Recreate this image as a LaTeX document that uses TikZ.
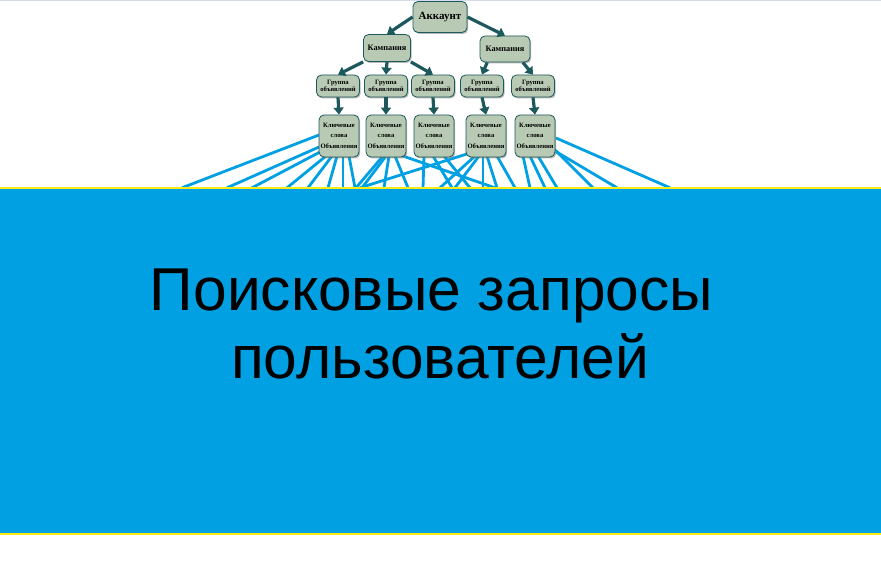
\documentclass[tikz,border=0pt]{standalone}
\usepackage{fontspec}
\setmainfont{Liberation Serif}
\newfontfamily\arialf{Liberation Sans}
\usetikzlibrary{shadows,arrows.meta,backgrounds}
\definecolor{sky}{RGB}{0,160,227}
\definecolor{sage}{RGB}{184,202,180}
\definecolor{darkteal}{RGB}{28,88,92}
\definecolor{yel}{RGB}{250,235,20}
\definecolor{topline}{RGB}{215,220,235}
\begin{document}
\begin{tikzpicture}[x=1pt,y=-1pt, line join=round, line cap=round,
	box/.style={draw=darkteal, line width=.8pt, fill=sage, rounded corners=5pt, inner sep=1pt, align=center, font=\bfseries,
		drop shadow={shadow xshift=1.2pt, shadow yshift=-1.5pt, opacity=.55}},
	grp/.style={box, minimum width=43pt, minimum height=22pt, font=\bfseries\fontsize{6.6}{6.8}\selectfont},
	kw/.style={box, minimum width=40pt, minimum height=42pt, font=\bfseries\fontsize{6.6}{9.5}\selectfont},
	arr/.style={-{Triangle[length=7pt,width=10pt]}, line width=3.2pt, draw=darkteal, line cap=butt},
	ray/.style={draw=sky, line width=2.8pt}]
	\def\W{881} \def\H{567}
	\useasboundingbox (0,0) rectangle (\W,\H);
	\draw[topline, line width=2pt] (0,0)--(\W,0);
	% дерево аккаунта
	\node (acc) at (440,17) [box, minimum width=54pt, minimum height=31pt, font=\bfseries\fontsize{11}{12}\selectfont]{Аккаунт};
	\node (c1) at (387,48) [box, minimum width=47pt, minimum height=27pt, font=\bfseries\fontsize{8.3}{9}\selectfont]{Кампания};
	\node (c2) at (505,49) [box, minimum width=50pt, minimum height=26pt, font=\bfseries\fontsize{8.3}{9}\selectfont]{Кампания};
	\node (g1) at (338,86) [grp]{Группа\\объявлений};
	\node (g2) at (386,86) [grp]{Группа\\объявлений};
	\node (g3) at (433,86) [grp]{Группа\\объявлений};
	\node (g4) at (482,86) [grp]{Группа\\объявлений};
	\node (g5) at (533,86) [grp]{Группа\\объявлений};
	\node (k1) at (339,136) [kw]{Ключевые\\слова\\[2pt]Объявления};
	\node (k2) at (386,136) [kw]{Ключевые\\слова\\[2pt]Объявления};
	\node (k3) at (434,136) [kw]{Ключевые\\слова\\[2pt]Объявления};
	\node (k4) at (486,136) [kw]{Ключевые\\слова\\[2pt]Объявления};
	\node (k5) at (535,136) [kw]{Ключевые\\слова\\[2pt]Объявления};
	\draw[arr] (acc.west)--(c1.north);
	\draw[arr] (acc.east)--(c2.north);
	\draw[arr] (c1.south west)--(g1.north);
	\draw[arr] (c1.south)--(g2.north);
	\draw[arr] (c1.south east)--(g3.north);
	\draw[arr] (c2.217)--(g4.north);
	\draw[arr] (c2.323)--(g5.north);
	\foreach \i in {1,...,5} \draw[arr] (g\i.south)--(k\i.north);
	% поле запросов
	\node (field) at (440.5,361) [fill=sky, minimum width=\W pt, minimum height=346pt, inner sep=0]{};
	\node (t1) at (431.5,310) [anchor=base, font=\arialf\fontsize{60.5}{68}\selectfont]{Поисковые запросы};
	\node (t2) at (440,378) [anchor=base, font=\arialf\fontsize{60.5}{68}\selectfont]{пользователей};
	\begin{scope}[on background layer]
		\foreach \n/\dx/\dy/\e in {k1/-20/-1/182, k1/-20/11/227, k1/-19/16/252, k1/-13/20/287, k1/-7/20/308,
			k1/-2/20/328, k1/4/20/343, k1/10/20/355, k2/-3/20/356, k2/0/20/362, k2/3/20/384, k2/9/20/408,
			k2/14/19/495, k3/-10/20/423, k3/-1/20/452, k3/10/20/470, k4/-16/17/360, k4/-11/20/440,
			k4/-7/20/455, k4/-3/20/483, k4/1/20/497, k4/11/20/515, k5/-12/20/530, k5/-5/20/545,
			k5/3/20/557, k5/18/12/593, k5/20/15/617, k5/21/2/670}
			\draw[ray] ([shift={(\dx,\dy)}]\n.center)--(\e,0 |- field.north);
	\end{scope}
	\draw[yel, line width=1.6pt] (field.north west)--(field.north east);
	\draw[yel, line width=1.6pt] (field.south west)--(field.south east);
\end{tikzpicture}
\end{document}
